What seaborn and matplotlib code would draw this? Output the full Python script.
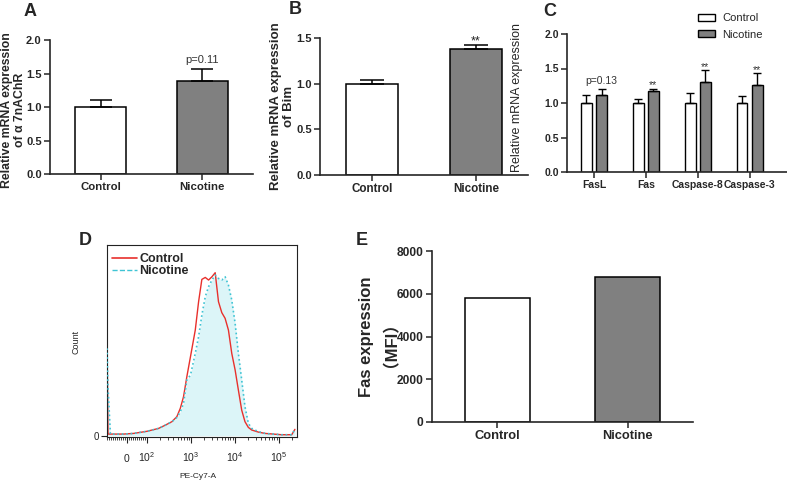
import matplotlib
matplotlib.use("Agg")
import matplotlib.pyplot as plt
import numpy as np
import pandas as pd
import seaborn as sns
from matplotlib.lines import Line2D
from matplotlib.patches import Patch
from matplotlib.ticker import FixedLocator, FormatStrFormatter

W, H = 787, 487
WHITE = "#ffffff"
GRAY = "#808080"
RED = "#e8302c"
CYAN = "#3fc4d4"
CYAN_FILL = "#dcf5f8"

GROUPS = ["Control", "Nicotine"]

# A: alpha7 nAChR mRNA
A_MEAN = [1.0, 1.39]
A_ERR = [0.10, 0.18]

# B: Bim mRNA
B_MEAN = [1.0, 1.38]
B_ERR = [0.04, 0.04]

# C: Fas pathway genes
C_GENES = ["FasL", "Fas", "Caspase-8", "Caspase-3"]
C_CONTROL = [1.0, 1.0, 1.0, 1.0]
C_CONTROL_ERR = [0.12, 0.06, 0.14, 0.10]
C_NICOTINE = [1.11, 1.17, 1.31, 1.26]
C_NICOTINE_ERR = [0.10, 0.04, 0.17, 0.17]
C_MARKS = ["p=0.13", "**", "**", "**"]

# D: flow histogram (PE-Cy7-A intensity vs count, % of peak)
D_INTENSITY = [-100, -95, -83, -17, 33, 100, 185, 263, 370, 480, 575, 680, 810,
               980, 1260, 1500, 1780, 2130, 2530, 3020, 3580, 4260, 5070, 6030,
               7180, 8550, 10200, 12100, 14400, 17100, 20400, 24300, 34600,
               49300, 116000, 199000, 235000]
D_CONTROL = [62.8, 1.0, 1.0, 1.0, 1.4, 2.7, 4.5, 6.5, 8.6, 11.7, 16.8, 23.9, 36.2,
             48.5, 64.8, 82.2, 95.9, 97.1, 95.5, 97.5, 100.0, 82.2, 75.5, 72.0,
             64.8, 50.5, 40.3, 28.0, 15.7, 8.6, 5.1, 3.5, 2.2,
             1.4, 0.6, 0.6, 3.9]
D_NICOTINE = [53.6, 30.1, 1.0, 1.0, 1.4, 2.7, 4.5, 6.5, 8.6, 11.2, 14.7, 19.8, 34.2,
              37.2, 50.5, 60.7, 74.0, 85.3, 91.4, 95.5, 98.6, 96.5, 95.5, 97.5,
              92.4, 83.2, 68.9, 50.5, 34.2, 17.8, 7.6, 4.5, 2.5,
              1.4, 0.6, 0.6, 3.9]
D_TICKS = [0, 1e2, 1e3, 1e4, 1e5]
D_TICK_LABELS = ["0", "$10^2$", "$10^3$", "$10^4$", "$10^5$"]

# E: Fas MFI
E_MFI = [5780, 6770]


def axes_px(fig, left, top, right, bottom):
    return fig.add_axes([left / W, 1 - bottom / H, (right - left) / W, (bottom - top) / H])


def panel_letter(fig, x, y, letter):
    fig.text(x / W, 1 - y / H, letter, ha="center", va="center", fontsize=13, fontweight="bold")


def bar_centers(ax):
    bars = sorted(ax.patches, key=lambda p: p.get_x())
    return [p.get_x() + p.get_width() / 2 for p in bars], [p.get_height() for p in bars]


def simple_bars(ax, means, errs, capsize):
    frame = pd.DataFrame({"group": GROUPS, "value": means})
    sns.barplot(data=frame, x="group", y="value", hue="group", palette=[WHITE, GRAY],
                edgecolor="black", linewidth=1.1, width=0.5, legend=False, ax=ax)
    centers, heights = bar_centers(ax)
    if errs is not None:
        ax.errorbar(centers, heights, yerr=[np.zeros(len(errs)), errs], fmt="none",
                    ecolor="black", elinewidth=1.1, capsize=capsize, capthick=1.1)
    return centers, heights


def style_bar_axes(ax, ylim, yticks, xlim, ysize, xsize, fmt=None):
    ax.set_xlim(*xlim)
    ax.set_ylim(*ylim)
    ax.set_yticks(yticks)
    if fmt:
        ax.yaxis.set_major_formatter(FormatStrFormatter(fmt))
    sns.despine(ax=ax)
    ax.spines["left"].set_bounds(ylim[0], yticks[-1])
    for side in ["left", "bottom"]:
        ax.spines[side].set_linewidth(1.2)
    ax.tick_params(direction="out", length=4, width=1.1, pad=2)
    ax.tick_params(axis="y", labelsize=ysize)
    ax.tick_params(axis="x", labelsize=xsize)
    for lab in ax.get_xticklabels() + ax.get_yticklabels():
        lab.set_fontweight("bold")
    ax.set_xlabel("")


sns.set_style("ticks")
plt.rcParams["font.family"] = ["Liberation Sans", "Noto Sans CJK SC", "DejaVu Sans"]
plt.rcParams["mathtext.fontset"] = "custom"
plt.rcParams["mathtext.rm"] = "Liberation Sans"
plt.rcParams["mathtext.it"] = "Liberation Sans:italic"
plt.rcParams["mathtext.bf"] = "Liberation Sans:bold"

fig = plt.figure(figsize=(W / 100, H / 100), dpi=100)

# ---- A ----
ax_a = axes_px(fig, 50, 40, 253, 174)
cen, hts = simple_bars(ax_a, A_MEAN, A_ERR, capsize=8)
style_bar_axes(ax_a, (0, 2.0), [0.0, 0.5, 1.0, 1.5, 2.0], (-0.5, 1.5), 8, 8.2, "%.1f")
ax_a.set_ylabel("Relative mRNA expression\nof α 7nAChR", fontsize=8.8, fontweight="bold",
                linespacing=1.1)
ax_a.yaxis.set_label_coords(-0.118, 0.48)
ax_a.text(cen[1], hts[1] + A_ERR[1] + 0.08, "p=0.11", ha="center", va="baseline",
          fontsize=8, color="#333333")
panel_letter(fig, 30, 12, "A")

# ---- B ----
ax_b = axes_px(fig, 320, 38, 528, 175)
cen, hts = simple_bars(ax_b, B_MEAN, B_ERR, capsize=8.5)
style_bar_axes(ax_b, (0, 1.5), [0.0, 0.5, 1.0, 1.5], (-0.5, 1.5), 8, 8.4, "%.1f")
ax_b.set_ylabel("Relative mRNA expression\nof Bim", fontsize=9.5, fontweight="bold",
                linespacing=1.1)
ax_b.yaxis.set_label_coords(-0.12, 0.5)
ax_b.text(cen[1], hts[1] + B_ERR[1] + 0.01, "**", ha="center", va="baseline",
          fontsize=9, color="#222222")
panel_letter(fig, 295, 9, "B")

# ---- C ----
ax_c = axes_px(fig, 567, 34, 787, 172)
c_frame = pd.DataFrame({
    "gene": C_GENES * 2,
    "condition": ["Control"] * len(C_GENES) + ["Nicotine"] * len(C_GENES),
    "value": C_CONTROL + C_NICOTINE,
})
sns.barplot(data=c_frame, x="gene", y="value", hue="condition", palette=[WHITE, GRAY],
            edgecolor="black", linewidth=1.0, width=0.58, gap=0.29, legend=False, ax=ax_c)
c_cen, c_hts = bar_centers(ax_c)
c_errs = [e for pair in zip(C_CONTROL_ERR, C_NICOTINE_ERR) for e in pair]
ax_c.errorbar(c_cen, c_hts, yerr=[np.zeros(len(c_errs)), c_errs], fmt="none",
              ecolor="black", elinewidth=1.0, capsize=3, capthick=1.0)
for x, h, e, mark in zip(c_cen[1::2], c_hts[1::2], C_NICOTINE_ERR, C_MARKS):
    gap = 0.06 if mark.startswith("p") else 0.0
    ax_c.text(x, h + e + gap, mark, ha="center", va="baseline", fontsize=7.5,
              color="#333333")
style_bar_axes(ax_c, (0, 2.0), [0.0, 0.5, 1.0, 1.5, 2.0], (-0.52, 3.72), 7.5, 7.5, "%.1f")
ax_c.set_ylabel("Relative mRNA expression", fontsize=9)
ax_c.yaxis.set_label_coords(-0.2, 0.54)
ax_c.legend(handles=[Patch(facecolor=WHITE, edgecolor="black", linewidth=1.0, label="Control"),
                     Patch(facecolor=GRAY, edgecolor="black", linewidth=1.0, label="Nicotine")],
            loc="upper left", bbox_to_anchor=(698 / W, 1 - 13 / H), bbox_transform=fig.transFigure,
            frameon=False, fontsize=8, handlelength=1.5, handleheight=0.6,
            handletextpad=0.7, labelspacing=0.6, borderpad=0, borderaxespad=0)
panel_letter(fig, 550, 11, "C")

# ---- D ----
ax_d = axes_px(fig, 107, 245, 297, 437)
ax_d.set_xscale("symlog", linthresh=100, linscale=0.41)
ax_d.fill_between(D_INTENSITY, D_NICOTINE, color=CYAN_FILL, linewidth=0, zorder=1)
sns.lineplot(x=D_INTENSITY, y=D_CONTROL, color=RED, linewidth=1.0, sort=False,
             estimator=None, ax=ax_d, zorder=2)
sns.lineplot(x=D_INTENSITY, y=D_NICOTINE, color=CYAN, linewidth=1.2, linestyle=":",
             sort=False, estimator=None, ax=ax_d, zorder=3)
ax_d.set_xlim(-100, 262144)
ax_d.set_ylim(-0.8, 117)
ax_d.set_xticks(D_TICKS)
ax_d.set_xticklabels(D_TICK_LABELS)
minor = [v for v in range(-100, 100, 10) if v != 0]
minor += [m * 10 ** e for e in range(2, 6) for m in range(2, 10)]
ax_d.xaxis.set_minor_locator(FixedLocator(minor))
ax_d.set_yticks([0])
ax_d.set_yticklabels(["0"])
ax_d.tick_params(axis="x", which="major", direction="out", length=4, width=0.8,
                 labelsize=7.5, pad=14)
ax_d.tick_params(axis="x", which="minor", direction="out", length=2.5, width=0.6)
ax_d.tick_params(axis="y", direction="out", length=4, width=0.8, labelsize=7, pad=2)
for lab in ax_d.get_xticklabels():
    lab.set_verticalalignment("baseline")
for sp in ax_d.spines.values():
    sp.set_linewidth(0.8)
    sp.set_color("#222222")
ax_d.set_ylabel("Count", fontsize=6.5)
ax_d.yaxis.set_label_coords(-0.14, 0.495)
ax_d.set_xlabel("PE-Cy7-A", fontsize=6)
ax_d.xaxis.set_label_coords(0.48, -0.19)
ax_d.legend(handles=[Line2D([], [], color=RED, linewidth=1.2, label="Control"),
                     Line2D([], [], color=CYAN, linewidth=1.0, linestyle="--", label="Nicotine")],
            loc="upper left", bbox_to_anchor=(112 / W, 1 - 253 / H), bbox_transform=fig.transFigure,
            frameon=False, prop={"size": 9, "weight": "bold"}, handlelength=2.0,
            handletextpad=0.2, labelspacing=0.0, borderpad=0, borderaxespad=0)
panel_letter(fig, 85, 241, "D")

# ---- E ----
ax_e = axes_px(fig, 432, 251, 693, 422)
simple_bars(ax_e, E_MFI, None, capsize=0)
style_bar_axes(ax_e, (0, 8000), [0, 2000, 4000, 6000, 8000], (-0.5, 1.5), 8.6, 9.3)
ax_e.set_ylabel("Fas expression\n（MFI）", fontsize=12, fontweight="bold", linespacing=1.0)
ax_e.yaxis.set_label_coords(-0.16, 0.5)
panel_letter(fig, 362, 241, "E")

fig.savefig("out.png", dpi=100, facecolor="white")
